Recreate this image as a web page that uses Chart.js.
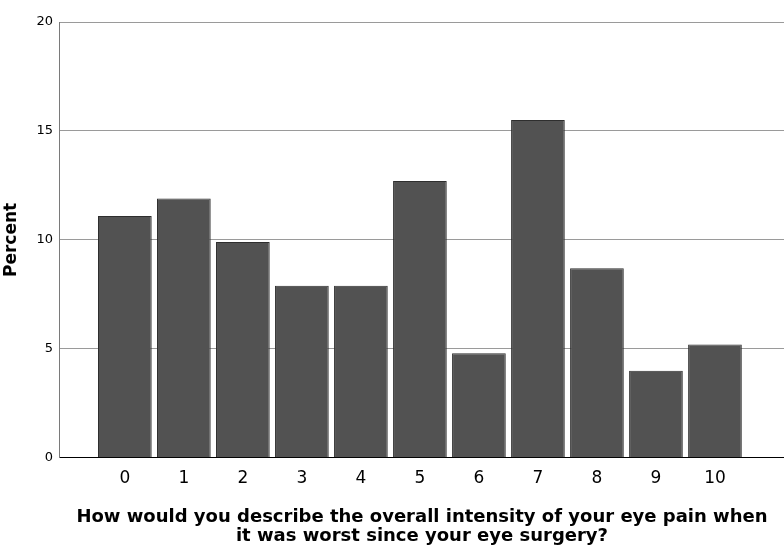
<!DOCTYPE html>
<html>
<head>
<meta charset="utf-8">
<script src="https://cdn.jsdelivr.net/npm/chart.js@4"></script>
<style>
  html, body { margin: 0; padding: 0; background: #fff; }
  #wrap { width: 784px; height: 546px; }
</style>
</head>
<body>
<div id="wrap"><canvas id="myChart" width="784" height="546"></canvas></div>
<script>
var painScores = [0, 1, 2, 3, 4, 5, 6, 7, 8, 9, 10];
var percentValues = [11.1, 11.9, 9.9, 7.9, 7.9, 12.7, 4.8, 15.5, 8.7, 4.0, 5.2];
var yTicks = [0, 5, 10, 15, 20];

var points = painScores.map(function (s, i) {
  return { x: s, y: percentValues[i] };
});

new Chart('myChart', {
  type: 'bar',
  data: {
    datasets: [
      {
        data: points,
        backgroundColor: '#525252',
        borderColor: '#2e2e2e',
        borderWidth: 1,
        barPercentage: 0.91,
        categoryPercentage: 1,
      },
    ],
  },
  options: {
    responsive: false,
    animation: false,
    layout: { padding: { top: 22, right: 0, left: 0, bottom: 0 } },
    plugins: {
      legend: { display: false },
      tooltip: { enabled: false },
    },
    scales: {
      x: {
        type: 'linear',
        offset: false,
        min: -1.1,
        max: 11.17,
        afterBuildTicks: function (axis) {
          axis.ticks = painScores.map(function (v) { return { value: v }; });
        },
        grid: { display: false },
        border: { color: '#000', width: 1 },
        ticks: {
          color: '#000',
          padding: 3,
          font: { family: 'DejaVu Sans', size: 17 },
          maxRotation: 0,
        },
        title: {
          display: true,
          text: ['How would you describe the overall intensity of your eye pain when', 'it was worst since your eye surgery?'],
          color: '#000',
          font: { family: 'DejaVu Sans', size: 18, weight: 'bold', lineHeight: 1.05 },
          padding: { top: 16, bottom: 0 },
        },
      },
      y: {
        min: 0,
        max: 20,
        afterBuildTicks: function (axis) {
          axis.ticks = yTicks.map(function (v) { return { value: v }; });
        },
        grid: { color: '#9a9a9a', drawTicks: false, lineWidth: 1 },
        border: { color: '#7a7a7a', width: 1 },
        ticks: {
          color: '#000',
          padding: 7,
          font: { family: 'DejaVu Sans', size: 13 },
        },
        title: {
          display: true,
          text: 'Percent',
          color: '#000',
          font: { family: 'DejaVu Sans', size: 17, weight: 'bold' },
          padding: { top: 1, bottom: 8 },
        },
      },
    },
  },
});
</script>
</body>
</html>
